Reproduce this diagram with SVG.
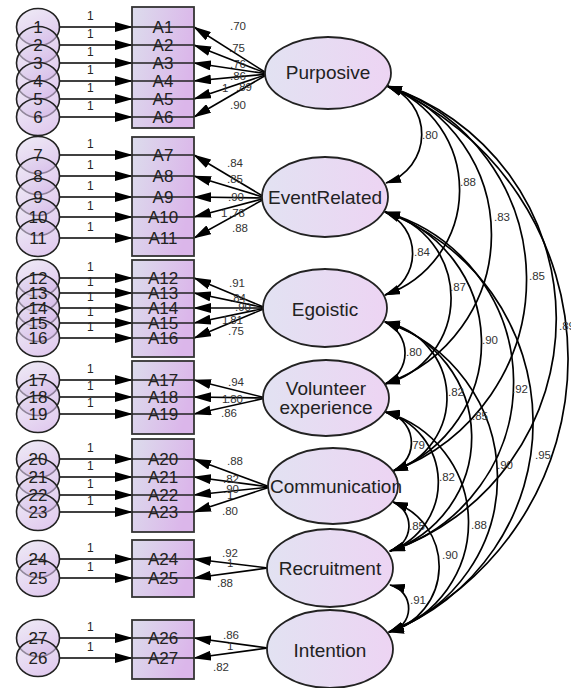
<svg xmlns="http://www.w3.org/2000/svg" width="571" height="688" viewBox="0 0 571 688">
<style>
.ln{stroke:#000;stroke-width:1.6;fill:none}
.ar{marker-end:url(#ah)}
.cv{stroke:#000;stroke-width:1.7;fill:none;marker-start:url(#ah2);marker-end:url(#ah2)}
.box{fill:url(#bg);stroke:#333;stroke-width:1.8}
.row{stroke:#222;stroke-width:1.5}
.cir{fill:url(#cg);fill-opacity:0.6;stroke:#222;stroke-width:1.6}
.ell{fill:url(#eg);stroke:#222;stroke-width:1.8}
.t{font-family:"Liberation Sans",Arial,sans-serif;fill:#222}
.bl{font-size:17px;text-anchor:middle}
.cl{font-size:17px;text-anchor:middle}
.ll{font-size:19px;text-anchor:middle}
.sm{font-size:11.5px;fill:#333}
.one{font-size:12px;fill:#222}
</style>
<defs>
<linearGradient id="bg" x1="0" y1="0" x2="1" y2="0.3">
<stop offset="0" stop-color="#dcdcec"/><stop offset="1" stop-color="#dbb6ea"/>
</linearGradient>
<linearGradient id="cg" x1="0" y1="0" x2="0.6" y2="1">
<stop offset="0" stop-color="#e4e0f0"/><stop offset="1" stop-color="#cda8e4"/>
</linearGradient>
<linearGradient id="eg" x1="0" y1="0" x2="1" y2="0">
<stop offset="0" stop-color="#e2e2f2"/><stop offset="1" stop-color="#edd4f3"/>
</linearGradient>
<marker id="ah" viewBox="0 0 18 10" markerWidth="18" markerHeight="10" refX="17" refY="5" orient="auto-start-reverse" markerUnits="userSpaceOnUse"><path d="M0,0 L18,5 L0,10 z" fill="#000"/></marker>
<marker id="ah2" viewBox="0 0 16 9" markerWidth="16" markerHeight="9" refX="15" refY="4.5" orient="auto-start-reverse" markerUnits="userSpaceOnUse"><path d="M0,0 L16,4.5 L0,9 z" fill="#000"/></marker>
</defs>
<rect width="571" height="688" fill="#fff"/>

<g id="connectors">
<!-- covariances -->
<path class="cv" d="M387,86 A51,51 0 0 1 386,183"/>
<path class="cv" d="M387,86 A111,111 0 0 1 385,295"/>
<path class="cv" d="M387,86 A158,158 0 0 1 385,384"/>
<path class="cv" d="M387,86 A204,204 0 0 1 393,471"/>
<path class="cv" d="M387,86 A245,245 0 0 1 390,551"/>
<path class="cv" d="M387,86 A297,297 0 0 1 389,632"/>
<path class="cv" d="M385,212 A45,45 0 0 1 385,295"/>
<path class="cv" d="M385,212 A89,89 0 0 1 385,384"/>
<path class="cv" d="M385,212 A137,137 0 0 1 393,471"/>
<path class="cv" d="M385,212 A177,177 0 0 1 390,551"/>
<path class="cv" d="M385,212 A224,224 0 0 1 389,632"/>
<path class="cv" d="M385,322 A34,34 0 0 1 385,384"/>
<path class="cv" d="M385,322 A77,77 0 0 1 393,471"/>
<path class="cv" d="M385,322 A120,120 0 0 1 390,551"/>
<path class="cv" d="M385,322 A164,164 0 0 1 389,632"/>
<path class="cv" d="M385,412 A31,31 0 0 1 393,471"/>
<path class="cv" d="M385,412 A73,73 0 0 1 390,551"/>
<path class="cv" d="M385,412 A115,115 0 0 1 389,632"/>
<path class="cv" d="M393,502 A26,26 0 0 1 390,551"/>
<path class="cv" d="M393,502 A68,68 0 0 1 389,632"/>
<path class="cv" d="M390,585 A24,24 0 0 1 389,632"/>
<g class="t sm">
<text x="422" y="139">.80</text><text x="460" y="186">.88</text><text x="494" y="221">.83</text>
<text x="529" y="280">.85</text><text x="559" y="330">.89</text>
<text x="414" y="256">.84</text><text x="450" y="291">.87</text><text x="482" y="344">.90</text>
<text x="512" y="393">.92</text><text x="535" y="459">.95</text>
<text x="406" y="356">.80</text><text x="448" y="396">.82</text><text x="472" y="420">.85</text><text x="497" y="469">.90</text>
<text x="409" y="449">.79</text><text x="439" y="481">.82</text><text x="471" y="529">.88</text>
<text x="409" y="530">.85</text><text x="442" y="559">.90</text>
<text x="410" y="604">.91</text>
</g>
<!-- loadings -->
<g class="ln ar">
<line x1="268" y1="74" x2="194" y2="27"/><line x1="268" y1="74" x2="194" y2="45"/><line x1="268" y1="74" x2="194" y2="63"/>
<line x1="268" y1="74" x2="194" y2="81"/><line x1="268" y1="74" x2="194" y2="99"/><line x1="268" y1="74" x2="194" y2="117"/>
<line x1="266" y1="198" x2="194" y2="155"/><line x1="266" y1="198" x2="194" y2="176"/><line x1="266" y1="198" x2="194" y2="197"/>
<line x1="266" y1="198" x2="194" y2="217"/><line x1="266" y1="198" x2="194" y2="238"/>
<line x1="266" y1="308" x2="194" y2="278"/><line x1="266" y1="308" x2="194" y2="293"/><line x1="266" y1="308" x2="194" y2="308"/>
<line x1="266" y1="308" x2="194" y2="323"/><line x1="266" y1="308" x2="194" y2="338"/>
<line x1="266" y1="398" x2="194" y2="380"/><line x1="266" y1="398" x2="194" y2="397"/><line x1="266" y1="398" x2="194" y2="414"/>
<line x1="270" y1="487" x2="194" y2="459"/><line x1="270" y1="487" x2="194" y2="477"/><line x1="270" y1="487" x2="194" y2="495"/><line x1="270" y1="487" x2="194" y2="512"/>
<line x1="268" y1="568" x2="194" y2="559"/><line x1="268" y1="568" x2="194" y2="578"/>
<line x1="268" y1="648" x2="194" y2="638"/><line x1="268" y1="648" x2="194" y2="658"/>
</g>
<g class="t sm">
<text x="230" y="30">.70</text><text x="229" y="52">.75</text><text x="230" y="68">.76</text><text x="230" y="80">.86</text>
<text x="222" y="92">1</text><text x="236" y="91">.89</text><text x="230" y="109">.90</text>
<text x="227" y="167">.84</text><text x="227" y="183">.85</text><text x="228" y="201">.90</text>
<text x="221" y="217">1</text><text x="229" y="217">.78</text><text x="232" y="232">.88</text>
<text x="229" y="287">.91</text><text x="230" y="302">.84</text><text x="235" y="311">.90</text>
<text x="222" y="324">1</text><text x="227" y="324">.81</text><text x="228" y="335">.75</text>
<text x="228" y="386">.94</text><text x="222" y="403">1</text><text x="227" y="403">.80</text><text x="221" y="417">.86</text>
<text x="227" y="465">.88</text><text x="223" y="483">.82</text><text x="223" y="493">.90</text><text x="227" y="499">1</text><text x="222" y="515">.80</text>
<text x="222" y="557">.92</text><text x="227" y="567">1</text><text x="217" y="587">.88</text>
<text x="223" y="639">.86</text><text x="227" y="650">1</text><text x="213" y="671">.82</text>
</g>
<!-- error arrows -->
<g class="ln ar">
<line x1="59" y1="27" x2="132" y2="27"/><line x1="59" y1="45" x2="132" y2="45"/><line x1="59" y1="63" x2="132" y2="63"/>
<line x1="59" y1="81" x2="132" y2="81"/><line x1="59" y1="99" x2="132" y2="99"/><line x1="59" y1="117" x2="132" y2="117"/>
<line x1="59" y1="155" x2="132" y2="155"/><line x1="59" y1="176" x2="132" y2="176"/><line x1="59" y1="197" x2="132" y2="197"/>
<line x1="59" y1="217" x2="132" y2="217"/><line x1="59" y1="238" x2="132" y2="238"/>
<line x1="59" y1="278" x2="132" y2="278"/><line x1="59" y1="293" x2="132" y2="293"/><line x1="59" y1="308" x2="132" y2="308"/>
<line x1="59" y1="323" x2="132" y2="323"/><line x1="59" y1="338" x2="132" y2="338"/>
<line x1="59" y1="380" x2="132" y2="380"/><line x1="59" y1="397" x2="132" y2="397"/><line x1="59" y1="414" x2="132" y2="414"/>
<line x1="59" y1="459" x2="132" y2="459"/><line x1="59" y1="477" x2="132" y2="477"/><line x1="59" y1="495" x2="132" y2="495"/><line x1="59" y1="512" x2="132" y2="512"/>
<line x1="59" y1="559" x2="132" y2="559"/><line x1="59" y1="578" x2="132" y2="578"/>
<line x1="59" y1="638" x2="132" y2="638"/><line x1="59" y1="658" x2="132" y2="658"/>
</g>
<g class="t one">
<text x="87" y="20">1</text><text x="87" y="38">1</text><text x="87" y="56">1</text><text x="87" y="74">1</text><text x="87" y="92">1</text><text x="87" y="110">1</text>
<text x="87" y="148">1</text><text x="87" y="169">1</text><text x="87" y="190">1</text><text x="87" y="210">1</text><text x="87" y="231">1</text>
<text x="87" y="271">1</text><text x="87" y="286">1</text><text x="87" y="301">1</text><text x="87" y="316">1</text><text x="87" y="331">1</text>
<text x="87" y="373">1</text><text x="87" y="390">1</text><text x="87" y="407">1</text>
<text x="87" y="452">1</text><text x="87" y="470">1</text><text x="87" y="488">1</text><text x="87" y="505">1</text>
<text x="87" y="552">1</text><text x="87" y="571">1</text>
<text x="87" y="631">1</text><text x="87" y="651">1</text>
</g>
</g>

<!-- indicator boxes -->
<g id="box-A1-A6">
<rect class="box" x="132" y="7" width="62" height="121"/>
<path class="row" d="M132,27H194M132,45H194M132,63H194M132,81H194M132,99H194M132,117H194"/>
<g class="t bl"><text x="163" y="33">A1</text><text x="163" y="51">A2</text><text x="163" y="69">A3</text><text x="163" y="87">A4</text><text x="163" y="105">A5</text><text x="163" y="123">A6</text></g>
</g>
<g id="box-A7-A11">
<rect class="box" x="132" y="137" width="62" height="119"/>
<path class="row" d="M132,155H194M132,176H194M132,197H194M132,217H194M132,238H194"/>
<g class="t bl"><text x="163" y="161">A7</text><text x="163" y="182">A8</text><text x="163" y="203">A9</text><text x="163" y="223">A10</text><text x="163" y="244">A11</text></g>
</g>
<g id="box-A12-A16">
<rect class="box" x="132" y="260" width="62" height="97"/>
<path class="row" d="M132,278H194M132,293H194M132,308H194M132,323H194M132,338H194"/>
<g class="t bl"><text x="163" y="284">A12</text><text x="163" y="299">A13</text><text x="163" y="314">A14</text><text x="163" y="329">A15</text><text x="163" y="344">A16</text></g>
</g>
<g id="box-A17-A19">
<rect class="box" x="132" y="361" width="62" height="73"/>
<path class="row" d="M132,380H194M132,397H194M132,414H194"/>
<g class="t bl"><text x="163" y="386">A17</text><text x="163" y="403">A18</text><text x="163" y="420">A19</text></g>
</g>
<g id="box-A20-A23">
<rect class="box" x="132" y="439" width="62" height="93"/>
<path class="row" d="M132,459H194M132,477H194M132,495H194M132,512H194"/>
<g class="t bl"><text x="163" y="465">A20</text><text x="163" y="483">A21</text><text x="163" y="501">A22</text><text x="163" y="518">A23</text></g>
</g>
<g id="box-A24-A25">
<rect class="box" x="132" y="540" width="62" height="57"/>
<path class="row" d="M132,559H194M132,578H194"/>
<g class="t bl"><text x="163" y="565">A24</text><text x="163" y="584">A25</text></g>
</g>
<g id="box-A26-A27">
<rect class="box" x="132" y="620" width="62" height="59"/>
<path class="row" d="M132,638H194M132,658H194"/>
<g class="t bl"><text x="163" y="644">A26</text><text x="163" y="664">A27</text></g>
</g>

<!-- error terms -->
<g id="e1"><ellipse class="cir" cx="38" cy="27" rx="21.5" ry="18.5"/></g>
<g id="e2"><ellipse class="cir" cx="38" cy="45" rx="21.5" ry="18.5"/></g>
<g id="e3"><ellipse class="cir" cx="38" cy="63" rx="21.5" ry="18.5"/></g>
<g id="e4"><ellipse class="cir" cx="38" cy="81" rx="21.5" ry="18.5"/></g>
<g id="e5"><ellipse class="cir" cx="38" cy="99" rx="21.5" ry="18.5"/></g>
<g id="e6"><ellipse class="cir" cx="38" cy="117" rx="21.5" ry="18.5"/></g>
<g id="e7"><ellipse class="cir" cx="38" cy="155" rx="21.5" ry="18.5"/></g>
<g id="e8"><ellipse class="cir" cx="38" cy="176" rx="21.5" ry="18.5"/></g>
<g id="e9"><ellipse class="cir" cx="38" cy="197" rx="21.5" ry="18.5"/></g>
<g id="e10"><ellipse class="cir" cx="38" cy="217" rx="21.5" ry="18.5"/></g>
<g id="e11"><ellipse class="cir" cx="38" cy="238" rx="21.5" ry="18.5"/></g>
<g id="e12"><ellipse class="cir" cx="38" cy="278" rx="21.5" ry="18.5"/></g>
<g id="e13"><ellipse class="cir" cx="38" cy="293" rx="21.5" ry="18.5"/></g>
<g id="e14"><ellipse class="cir" cx="38" cy="308" rx="21.5" ry="18.5"/></g>
<g id="e15"><ellipse class="cir" cx="38" cy="323" rx="21.5" ry="18.5"/></g>
<g id="e16"><ellipse class="cir" cx="38" cy="338" rx="21.5" ry="18.5"/></g>
<g id="e17"><ellipse class="cir" cx="38" cy="380" rx="21.5" ry="18.5"/></g>
<g id="e18"><ellipse class="cir" cx="38" cy="397" rx="21.5" ry="18.5"/></g>
<g id="e19"><ellipse class="cir" cx="38" cy="414" rx="21.5" ry="18.5"/></g>
<g id="e20"><ellipse class="cir" cx="38" cy="459" rx="21.5" ry="18.5"/></g>
<g id="e21"><ellipse class="cir" cx="38" cy="477" rx="21.5" ry="18.5"/></g>
<g id="e22"><ellipse class="cir" cx="38" cy="495" rx="21.5" ry="18.5"/></g>
<g id="e23"><ellipse class="cir" cx="38" cy="512" rx="21.5" ry="18.5"/></g>
<g id="e24"><ellipse class="cir" cx="38" cy="559" rx="21.5" ry="18.5"/></g>
<g id="e25"><ellipse class="cir" cx="38" cy="578" rx="21.5" ry="18.5"/></g>
<g id="e27"><ellipse class="cir" cx="38" cy="638" rx="21.5" ry="18.5"/></g>
<g id="e26"><ellipse class="cir" cx="38" cy="658" rx="21.5" ry="18.5"/></g>
<g id="error-labels" class="t cl">
<text x="38" y="33">1</text><text x="38" y="51">2</text><text x="38" y="69">3</text><text x="38" y="87">4</text><text x="38" y="105">5</text><text x="38" y="123">6</text>
<text x="38" y="161">7</text><text x="38" y="182">8</text><text x="38" y="203">9</text><text x="38" y="223">10</text><text x="38" y="244">11</text>
<text x="38" y="284">12</text><text x="38" y="299">13</text><text x="38" y="314">14</text><text x="38" y="329">15</text><text x="38" y="344">16</text>
<text x="38" y="386">17</text><text x="38" y="403">18</text><text x="38" y="420">19</text>
<text x="38" y="465">20</text><text x="38" y="483">21</text><text x="38" y="501">22</text><text x="38" y="518">23</text>
<text x="38" y="565">24</text><text x="38" y="584">25</text>
<text x="38" y="644">27</text><text x="38" y="664">26</text>
</g>

<!-- latent variables -->
<g id="Purposive"><ellipse class="ell" cx="328" cy="73" rx="63" ry="36"/><text class="t ll" x="328" y="79">Purposive</text></g>
<g id="EventRelated"><ellipse class="ell" cx="325" cy="197" rx="63" ry="40"/><text class="t ll" x="325" y="204">EventRelated</text></g>
<g id="Egoistic"><ellipse class="ell" cx="325" cy="308" rx="62" ry="39"/><text class="t ll" x="325" y="316">Egoistic</text></g>
<g id="Volunteer"><ellipse class="ell" cx="326" cy="398" rx="63" ry="38"/><text class="t ll" x="326" y="395">Volunteer</text><text class="t ll" x="326" y="414">experience</text></g>
<g id="Communication"><ellipse class="ell" cx="333" cy="486" rx="65" ry="38"/><text class="t ll" x="336" y="493">Communication</text></g>
<g id="Recruitment"><ellipse class="ell" cx="330" cy="568" rx="63" ry="39"/><text class="t ll" x="330" y="575">Recruitment</text></g>
<g id="Intention"><ellipse class="ell" cx="330" cy="649" rx="63" ry="39"/><text class="t ll" x="330" y="657">Intention</text></g>
</svg>
